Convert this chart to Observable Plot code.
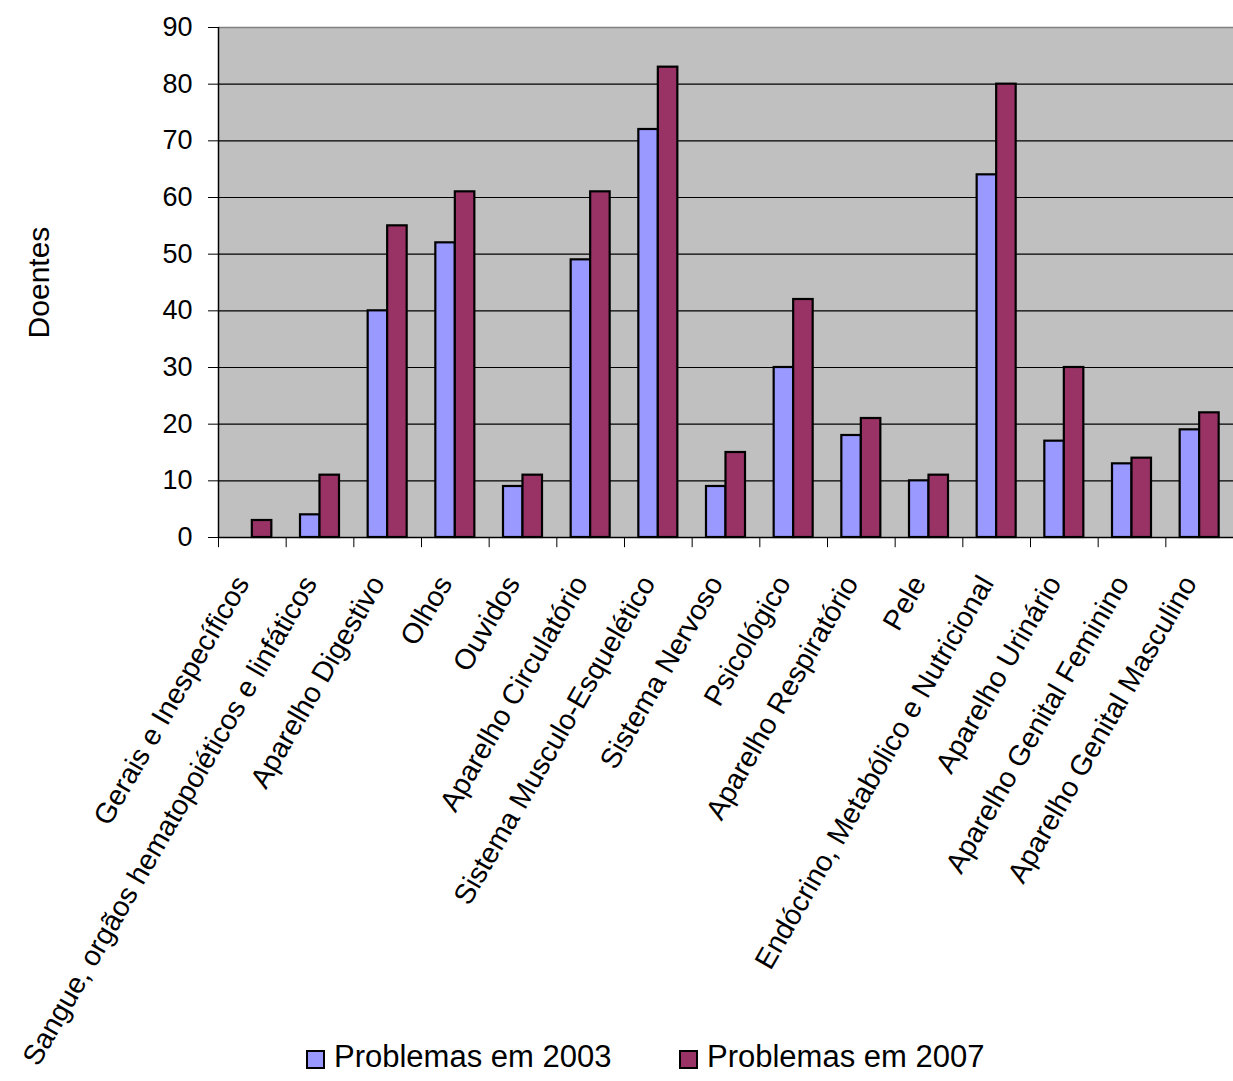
<!DOCTYPE html>
<html>
<head>
<meta charset="utf-8">
<script src="https://cdn.jsdelivr.net/npm/d3@7"></script>
<script src="https://cdn.jsdelivr.net/npm/@observablehq/plot@0.6"></script>
<style>
  html, body { margin: 0; padding: 0; background: #fff; }
  body { width: 1233px; height: 1081px; overflow: hidden; font-family: "Liberation Sans", Arial, sans-serif; }
  #chart svg { overflow: visible; display: block; }
  .legend { position: absolute; left: 0; top: 1039px; width: 1233px; }
  .item { position: absolute; display: flex; align-items: center; font-size: 31px; color: #000; white-space: nowrap; }
  .sw { width: 15px; height: 15px; border: 2px solid #000; margin-right: 9px; margin-top: 4px; }
</style>
</head>
<body>
<div id="chart"></div>
<div class="legend" id="legend"></div>
<script>
const categories = [
  "Gerais e Inespecíficos",
  "Sangue, orgãos hematopoiéticos e linfáticos",
  "Aparelho Digestivo",
  "Olhos",
  "Ouvidos",
  "Aparelho Circulatório",
  "Sistema Musculo-Esquelético",
  "Sistema Nervoso",
  "Psicológico",
  "Aparelho Respiratório",
  "Pele",
  "Endócrino, Metabólico e Nutricional",
  "Aparelho Urinário",
  "Aparelho Genital Feminino",
  "Aparelho Genital Masculino"
];
const values2003 = [0, 4, 40, 52, 9, 49, 72, 9, 30, 18, 10, 64, 17, 13, 19];
const values2007 = [3, 11, 55, 61, 11, 61, 83, 15, 42, 21, 11, 80, 30, 14, 22];
const seriesNames = ["Problemas em 2003", "Problemas em 2007"];
const seriesColors = ["#9999FF", "#993366"];
const yTicks = [0, 10, 20, 30, 40, 50, 60, 70, 80, 90];
const gridTicks = [10, 20, 30, 40, 50, 60, 70, 80];

const d2003 = categories.map((c, i) => ({category: c, value: values2003[i]})).filter(d => d.value > 0);
const d2007 = categories.map((c, i) => ({category: c, value: values2007[i]}));

const W = 1233, H = 1035;
const mL = 218, mR = 0, mT = 27, mB = H - 537;
const step = (W - mL - mR) / categories.length;
const barW = 19.5;
const half = step / 2;

const font = "Liberation Sans, Arial, sans-serif";

const plot = Plot.plot({
  width: W,
  height: H,
  marginLeft: mL,
  marginRight: mR,
  marginTop: mT,
  marginBottom: mB,
  style: {fontFamily: font, background: "#fff", overflow: "visible"},
  x: {domain: categories, padding: 0, round: false, label: null},
  y: {domain: [0, 90], label: null},
  marks: [
    Plot.frame({fill: "#C0C0C0", stroke: null}),
    Plot.ruleY(gridTicks, {stroke: "#000", strokeWidth: 1.2}),
    Plot.ruleY([90], {stroke: "#808080", strokeWidth: 1.5}),
    Plot.barY(d2003, {x: "category", y: "value", fill: seriesColors[0], stroke: "#000", strokeWidth: 2.2,
      insetLeft: half - barW, insetRight: half}),
    Plot.barY(d2007, {x: "category", y: "value", fill: seriesColors[1], stroke: "#000", strokeWidth: 2.2,
      insetLeft: half, insetRight: half - barW}),
    Plot.ruleY([0], {stroke: "#000", strokeWidth: 1.5}),
    Plot.ruleX(categories, {x: d => d, y1: 0, y2: -1.8, dx: -half, stroke: "#000", strokeWidth: 1}),
    Plot.ruleX([categories[categories.length - 1]], {x: d => d, y1: 0, y2: -1.8, dx: half, stroke: "#000", strokeWidth: 1}),
    Plot.axisY({ticks: yTicks, tickSize: 10, tickPadding: 16, fontSize: 27, tickFormat: d => d, label: null, stroke: "#000"}),
    Plot.ruleX([categories[0]], {x: d => d, dx: -half, y1: 0, y2: 90, stroke: "#000", strokeWidth: 1.5}),
    Plot.axisX({tickSize: 0, tickRotate: -60, tickPadding: 41, fontSize: 28.5, label: null, dx: -10}),
    Plot.text(["Doentes"], {frameAnchor: "left", textAnchor: "middle", dx: -179, rotate: -90, fontSize: 30, text: d => d, fill: "#000"})
  ]
});
document.getElementById("chart").appendChild(plot);

const legend = document.getElementById("legend");
const legendX = [306, 679];
seriesNames.forEach((name, i) => {
  const item = document.createElement("div");
  item.className = "item";
  item.style.left = legendX[i] + "px";
  const sw = document.createElement("div");
  sw.className = "sw";
  sw.style.background = seriesColors[i];
  item.appendChild(sw);
  const t = document.createElement("span");
  t.textContent = name;
  item.appendChild(t);
  legend.appendChild(item);
});
</script>
</body>
</html>
